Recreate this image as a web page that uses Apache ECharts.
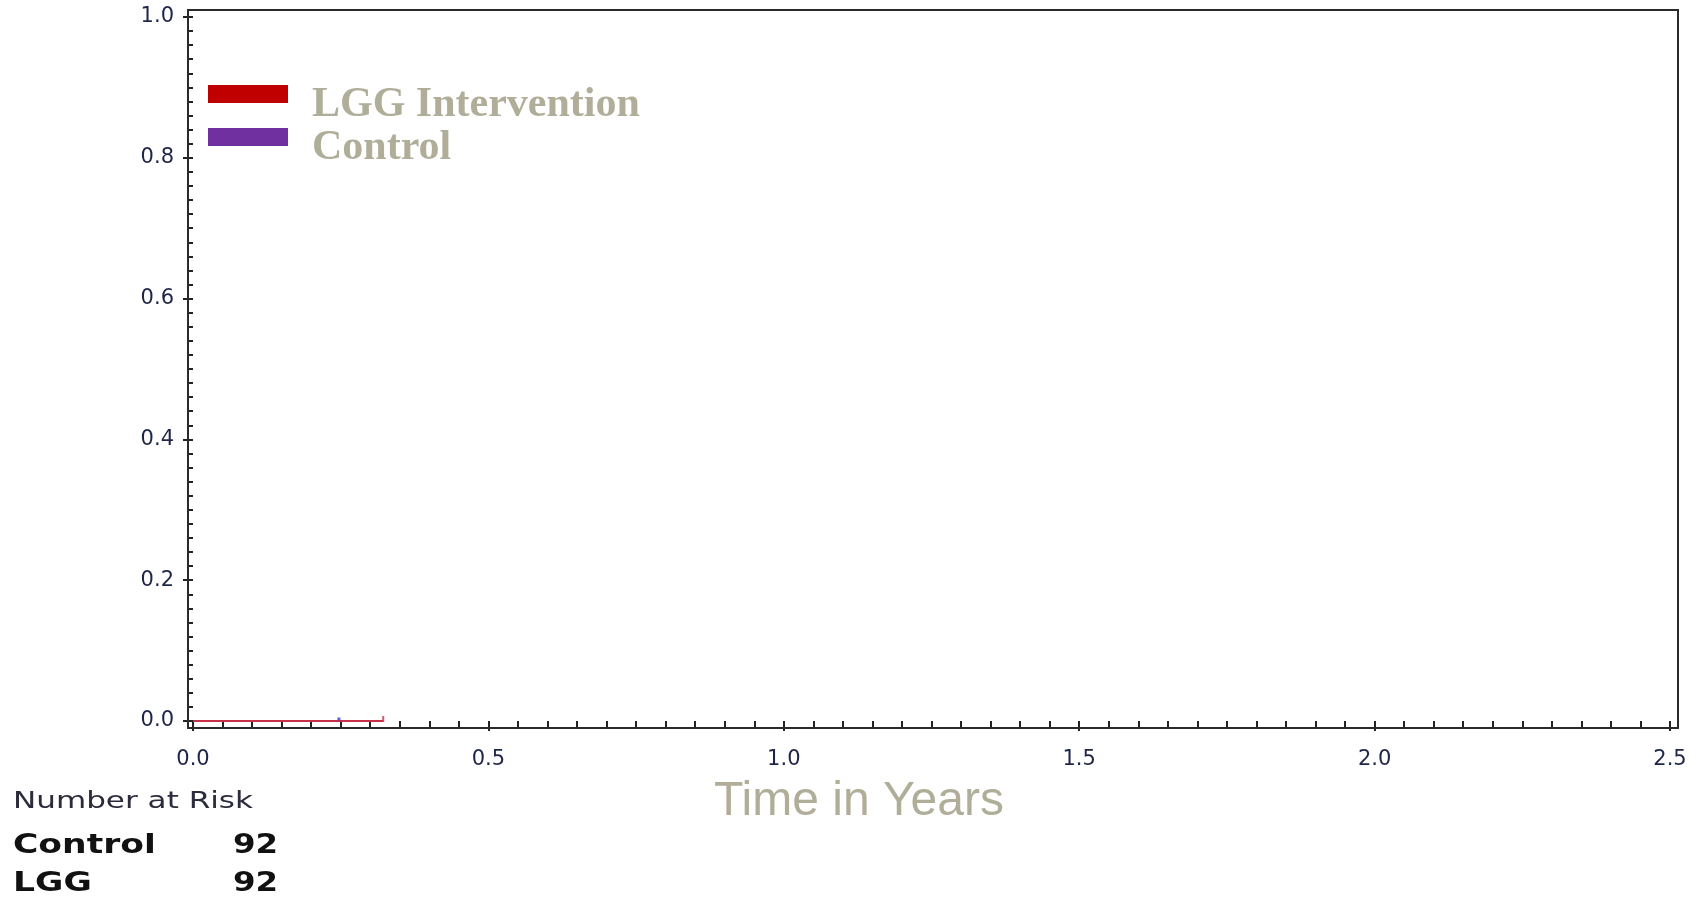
<!DOCTYPE html>
<html>
<head>
<meta charset="utf-8">
<title>Time in Years</title>
<script src="https://cdn.jsdelivr.net/npm/echarts@6/dist/echarts.min.js"></script>
<style>
  html, body { margin: 0; padding: 0; background: #ffffff; }
  #chart { width: 1704px; height: 897px; }
</style>
</head>
<body>
<div id="chart"></div>
<script>
// Kaplan-Meier style cumulative incidence, two arms
const seriesNames = ['LGG Intervention', 'Control'];
const seriesColors = ['#c00000', '#7030a0'];

// step curves: [time in years, cumulative proportion]
const lggCurve = [[0, 0], [0.322, 0]];
const controlCurve = [[0, 0], [0.247, 0]];

// censoring times (last follow-up)
const lggCensor = [[0.322, 0]];
const controlCensor = [[0.247, 0]];

// axis ticks
const xTicks = { min: 0, max: 2.5, step: 0.5 };
const yTicks = { min: 0, max: 1.0, step: 0.2 };

// number-at-risk table
const riskTitle = 'Number at Risk';
const riskGroups = ['Control', 'LGG'];
const riskCounts = [[92], [92]];

const chart = echarts.init(document.getElementById('chart'), null, { renderer: 'canvas' });

const tickLabelStyle = {
  fontFamily: 'DejaVu Sans',
  fontSize: 21,
  color: '#1f2547',
  formatter: v => Number(v).toFixed(1)
};
const tickLine = { show: true, length: 10, lineStyle: { color: '#222', width: 2 } };
const minorLine = { show: true, splitNumber: 10, length: 6, lineStyle: { color: '#222', width: 2 } };

// legend swatch: filled bar in the upper part of a taller box, so the
// label sits slightly below the bar
const swatchIcon = 'path://M0,0H80V18H0ZM0,40H80';

// number-at-risk text elements
const riskElements = [];
riskElements.push({
  type: 'text', x: 13, y: 802, scaleX: 1.35,
  style: { text: riskTitle, font: '23px "DejaVu Sans"', fill: '#2b2b3b', verticalAlign: 'middle' }
});
const rowY = [846, 884];
riskGroups.forEach((g, i) => {
  riskElements.push({
    type: 'text', x: 13, y: rowY[i], scaleX: 1.28,
    style: { text: g, font: 'bold 27px "DejaVu Sans"', fill: '#111', verticalAlign: 'middle' }
  });
  riskCounts[i].forEach((n, j) => {
    riskElements.push({
      type: 'text', x: 233 + j * 120, y: rowY[i], scaleX: 1.2,
      style: { text: String(n), font: 'bold 27px "DejaVu Sans"', fill: '#111', verticalAlign: 'middle' }
    });
  });
});

chart.setOption({
  animation: false,
  backgroundColor: '#ffffff',
  title: {
    text: 'Time in Years',
    left: 714,
    top: 778,
    padding: 0,
    textStyle: { fontFamily: 'Liberation Sans', fontSize: 48, fontWeight: 'normal', color: '#b0ae98' }
  },
  legend: {
    data: seriesNames,
    orient: 'vertical',
    left: 208,
    top: 84,
    padding: 0,
    icon: swatchIcon,
    itemWidth: 80,
    itemHeight: 40,
    itemGap: 1,
    itemStyle: { borderWidth: 0 },
    textStyle: {
      fontFamily: 'Liberation Serif',
      fontWeight: 'bold',
      fontSize: 42,
      color: '#b0ae98',
      padding: [0, 0, 0, 19]
    }
  },
  grid: { left: 193, right: 34, top: 17, bottom: 176, containLabel: false },
  xAxis: {
    type: 'value',
    min: xTicks.min,
    max: xTicks.max,
    interval: xTicks.step,
    offset: 7,
    axisLine: { show: false },
    axisTick: tickLine,
    minorTick: minorLine,
    splitLine: { show: false },
    axisLabel: Object.assign({ margin: 21 }, tickLabelStyle)
  },
  yAxis: {
    type: 'value',
    min: yTicks.min,
    max: yTicks.max,
    interval: yTicks.step,
    offset: 5,
    axisLine: { show: false },
    axisTick: tickLine,
    minorTick: minorLine,
    splitLine: { show: false },
    axisLabel: Object.assign({ margin: 14 }, tickLabelStyle)
  },
  graphic: [
    {
      type: 'rect', z: 10, silent: true,
      shape: { x: 188, y: 10, width: 1490, height: 718 },
      style: { fill: 'none', stroke: '#2a2a2a', lineWidth: 2 }
    }
  ].concat(riskElements),
  series: [
    {
      name: 'Control', type: 'line', step: 'end', data: controlCurve,
      color: seriesColors[1], showSymbol: false, lineStyle: { width: 2 }, z: 2
    },
    {
      name: 'LGG Intervention', type: 'line', step: 'end', data: lggCurve,
      color: seriesColors[0], showSymbol: false, lineStyle: { width: 2, color: '#c8304a' }, z: 3
    },
    {
      name: 'Control', type: 'scatter', data: controlCensor, color: '#3a3ad0',
      symbol: 'rect', symbolSize: [3, 3], symbolOffset: [0, -2], z: 4
    },
    {
      name: 'LGG Intervention', type: 'scatter', data: lggCensor, color: '#c8304a',
      symbol: 'rect', symbolSize: [2, 6], symbolOffset: [0, -2], z: 4
    }
  ]
});
</script>
</body>
</html>
